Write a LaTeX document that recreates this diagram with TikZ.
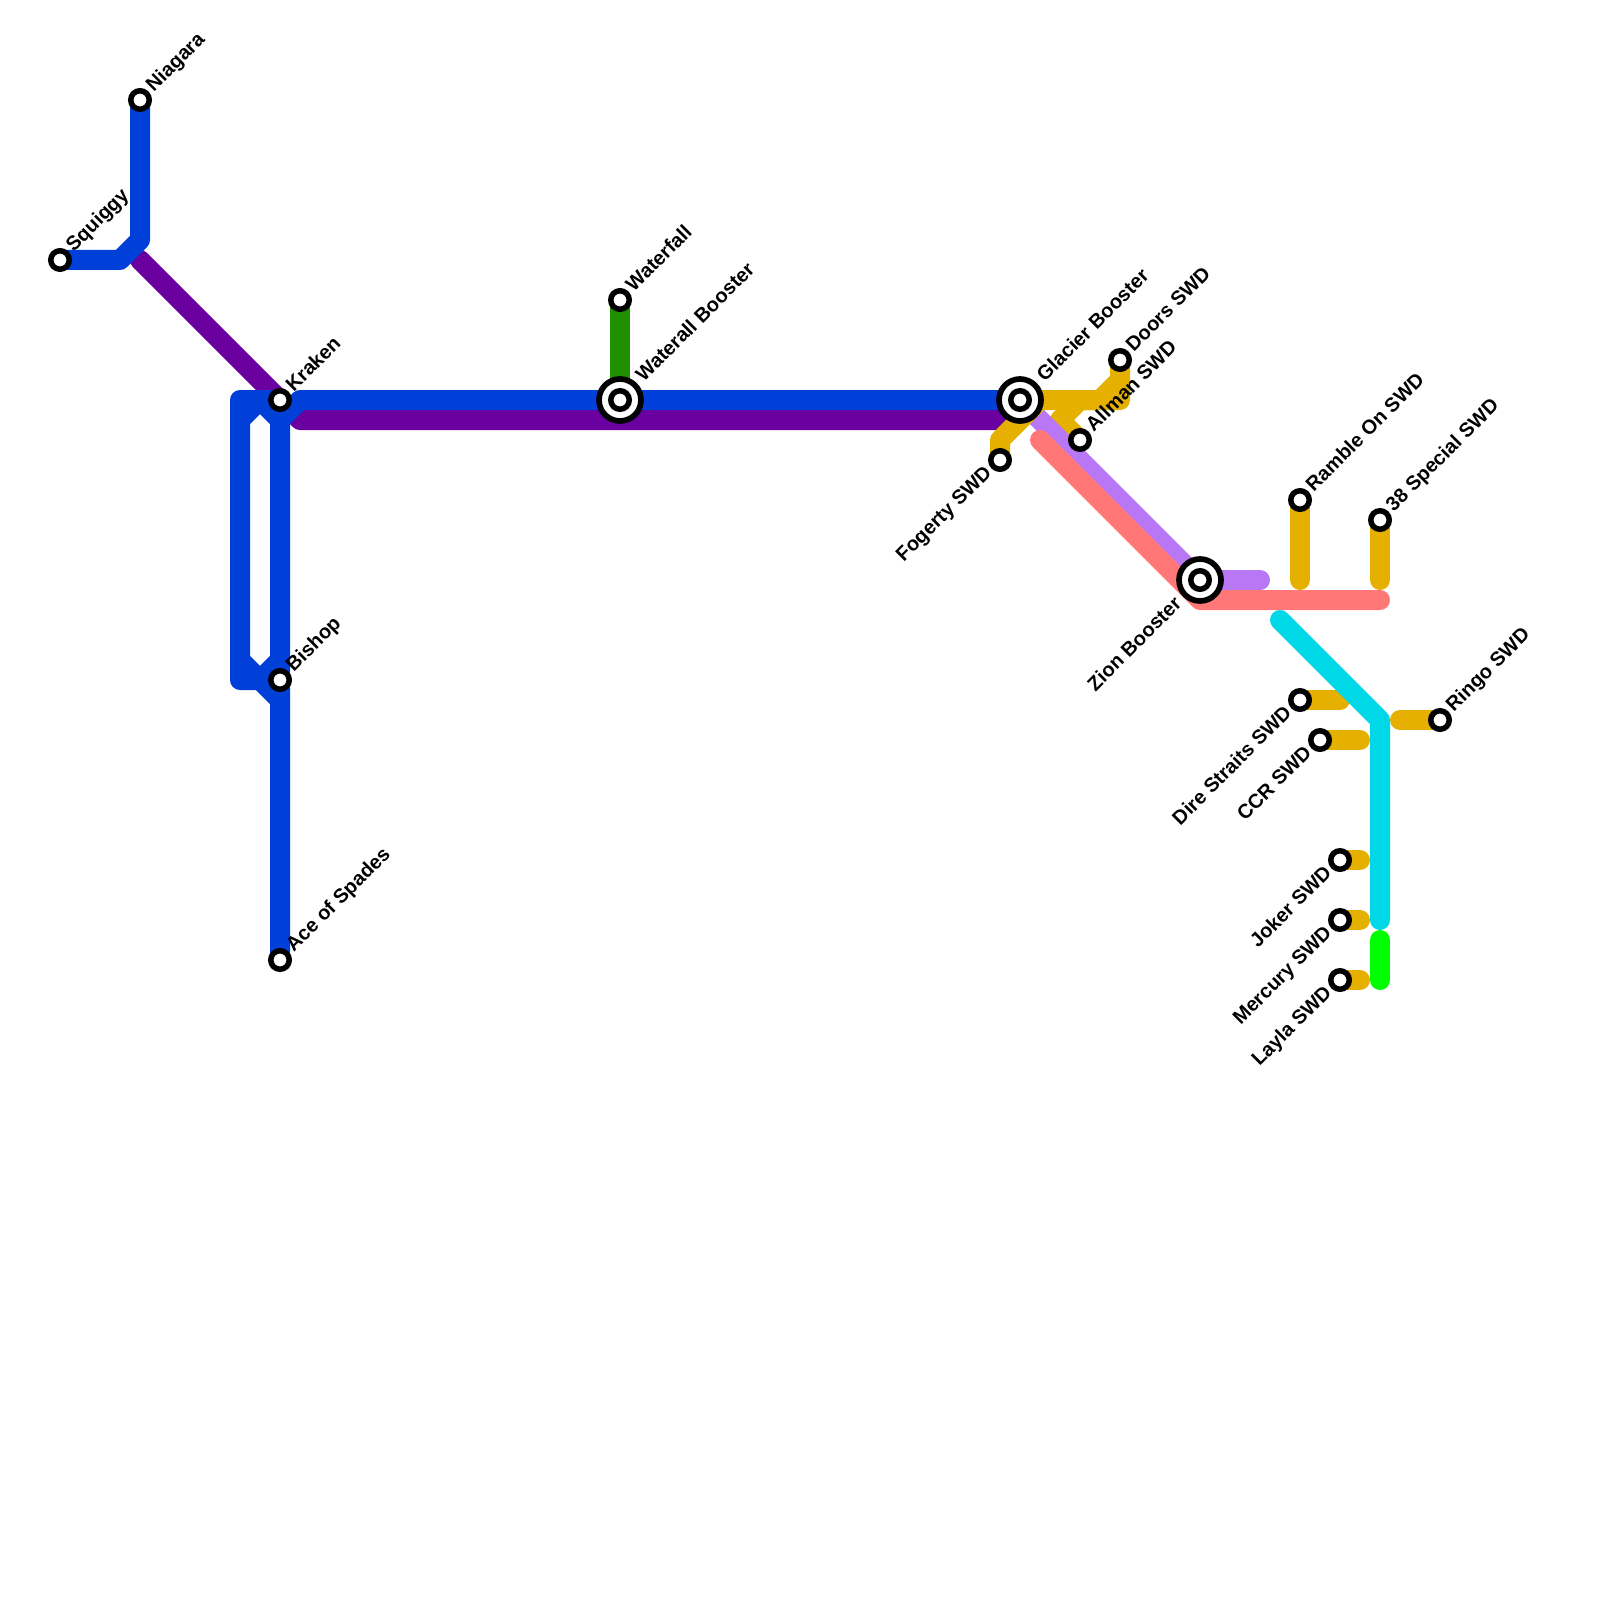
\documentclass[tikz,border=0pt]{standalone}
\usepackage{fontspec}
\setmainfont{Liberation Sans}
\usepackage{xcolor}
\definecolor{metroBlue}{HTML}{0040D8}
\definecolor{metroPurple}{HTML}{6A00A0}
\definecolor{metroForest}{HTML}{1E9000}
\definecolor{metroGold}{HTML}{E5B000}
\definecolor{metroLilac}{HTML}{B877F5}
\definecolor{metroCoral}{HTML}{FF7777}
\definecolor{metroCyan}{HTML}{00D8E8}
\definecolor{metroLime}{HTML}{00FF00}
\usetikzlibrary{calc}
\tikzset{
  rail/.style={line width=20*0.25mm,line cap=round,line join=round,color=#1},
  halt/.style={
    circle,draw=black,fill=white,line width=5.5*0.25mm,
    minimum size=18.5*0.25mm,inner sep=0pt,outer sep=0pt
  },
  hubring/.style={
    circle,draw=black,fill=white,line width=5.7*0.25mm,
    minimum size=42*0.25mm,inner sep=0pt,outer sep=0pt
  },
  lblright/.style={
    rotate=45,anchor=west,inner sep=0pt,
    text height=1.45ex,text depth=0.4ex,
    font=\fontsize{14.2pt}{16pt}\selectfont\bfseries
  },
  lblleft/.style={
    rotate=45,anchor=east,inner sep=0pt,
    text height=1.45ex,text depth=0.4ex,
    font=\fontsize{14.2pt}{16pt}\selectfont\bfseries
  },
}
\begin{document}
\begin{tikzpicture}[x=0.25mm,y=-0.25mm]
\useasboundingbox (0,0) rectangle (1600,1600);

%% ── Bends ────────────────────────────────────────────────
\coordinate (b1) at (120,260);
\coordinate (b2) at (140,240);
\coordinate (b3) at (140,260);
\coordinate (b4) at (300,420);
\coordinate (b5) at (1000,420);
\coordinate (b6) at (280,420);
\coordinate (b7) at (300,400);
\coordinate (b8) at (240,400);
\coordinate (b9) at (240,680);
\coordinate (b10) at (260,680);
\coordinate (b11) at (280,700);
\coordinate (b12) at (240,420);
\coordinate (b13) at (260,400);
\coordinate (b14) at (240,660);
\coordinate (b15) at (280,660);
\coordinate (g1) at (1000,440);
\coordinate (g2) at (1040,400);
\coordinate (g3) at (1100,400);
\coordinate (g4) at (1120,380);
\coordinate (g5) at (1060,420);
\coordinate (g6) at (1080,400);
\coordinate (g7) at (1120,400);
\coordinate (r1) at (1040,440);
\coordinate (r2) at (1200,600);
\coordinate (r3) at (1380,600);
\coordinate (l1) at (1260,580);
\coordinate (e1) at (1300,580);
\coordinate (e2) at (1380,580);
\coordinate (c1) at (1280,620);
\coordinate (c2) at (1380,720);
\coordinate (c3) at (1380,920);
\coordinate (v1) at (1380,940);
\coordinate (v2) at (1380,980);
\coordinate (s1) at (1340,700);
\coordinate (s2) at (1360,740);
\coordinate (s3) at (1360,860);
\coordinate (s4) at (1360,920);
\coordinate (s5) at (1360,980);
\coordinate (s6) at (1400,720);

%% ── Stations (named first, drawn last) ───────────────────
\coordinate (squiggy) at (60,260);
\coordinate (niagara) at (140,100);
\coordinate (kraken) at (280,400);
\coordinate (bishop) at (280,680);
\coordinate (spades) at (280,960);
\coordinate (waterfall) at (620,300);
\coordinate (wbooster) at (620,400);
\coordinate (glacier) at (1020,400);
\coordinate (doors) at (1120,360);
\coordinate (allman) at (1080,440);
\coordinate (fogerty) at (1000,460);
\coordinate (zion) at (1200,580);
\coordinate (ramble) at (1300,500);
\coordinate (special) at (1380,520);
\coordinate (dire) at (1300,700);
\coordinate (ccr) at (1320,740);
\coordinate (joker) at (1340,860);
\coordinate (mercury) at (1340,920);
\coordinate (layla) at (1340,980);
\coordinate (ringo) at (1440,720);

%% ── Lines ────────────────────────────────────────────────
\draw[rail=metroPurple] (b3) -- (kraken) -- (b4) -- (b5);
\draw[rail=metroBlue] (squiggy) -- (b1) -- (b2) -- (niagara);
\draw[rail=metroBlue] (spades) -- (b6) -- (b7) -- (glacier);
\draw[rail=metroBlue] (kraken) -- (b8) -- (b9) -- (b10) -- (b11);
\draw[rail=metroBlue] (b12) -- (b13) -- (b6);
\draw[rail=metroBlue] (b14) -- (b10) -- (b15);
\draw[rail=metroForest] (waterfall) -- (wbooster);
\draw[rail=metroGold] (glacier) -- (g3) -- (g4);
\draw[rail=metroGold] (allman) -- (g5) -- (g6) -- (g7) -- (doors);
\draw[rail=metroLilac] (glacier) -- (zion) -- (l1);
\draw[rail=metroGold] (fogerty) -- (g1) -- (g2);
\draw[rail=metroCoral] (r1) -- (r2) -- (r3);
\draw[rail=metroGold] (ramble) -- (e1);
\draw[rail=metroGold] (special) -- (e2);
\draw[rail=metroGold] (dire) -- (s1);
\draw[rail=metroGold] (ccr) -- (s2);
\draw[rail=metroGold] (joker) -- (s3);
\draw[rail=metroGold] (mercury) -- (s4);
\draw[rail=metroGold] (layla) -- (s5);
\draw[rail=metroGold] (s6) -- (ringo);
\draw[rail=metroCyan] (c1) -- (c2) -- (c3);
\draw[rail=metroLime] (v1) -- (v2);

%% ── Station marks ────────────────────────────────────────
\node[halt] (nsquiggy) at (squiggy) {};
\node[halt] (nniagara) at (niagara) {};
\node[halt] (nkraken) at (kraken) {};
\node[halt] (nbishop) at (bishop) {};
\node[halt] (nspades) at (spades) {};
\node[halt] (nwaterfall) at (waterfall) {};
\node[hubring] (hwbooster) at (wbooster) {};
\node[halt] (nwbooster) at (wbooster) {};
\node[hubring] (hglacier) at (glacier) {};
\node[halt] (nglacier) at (glacier) {};
\node[halt] (ndoors) at (doors) {};
\node[halt] (nallman) at (allman) {};
\node[halt] (nfogerty) at (fogerty) {};
\node[hubring] (hzion) at (zion) {};
\node[halt] (nzion) at (zion) {};
\node[halt] (nramble) at (ramble) {};
\node[halt] (nspecial) at (special) {};
\node[halt] (ndire) at (dire) {};
\node[halt] (nccr) at (ccr) {};
\node[halt] (njoker) at (joker) {};
\node[halt] (nmercury) at (mercury) {};
\node[halt] (nlayla) at (layla) {};
\node[halt] (nringo) at (ringo) {};

%% ── Labels ───────────────────────────────────────────────
\node[lblright] (tsquiggy) at ($(squiggy)+(11,-10)$) {Squiggy};
\node[lblright] (tniagara) at ($(niagara)+(11,-10)$) {Niagara};
\node[lblright] (tkraken) at ($(kraken)+(11,-10)$) {Kraken};
\node[lblright] (tbishop) at ($(bishop)+(11,-10)$) {Bishop};
\node[lblright] (tspades) at ($(spades)+(11,-10)$) {Ace of Spades};
\node[lblright] (twaterfall) at ($(waterfall)+(11,-10)$) {Waterfall};
\node[lblright] (twbooster) at ($(wbooster)+(21,-20)$) {Waterall Booster};
\node[lblright] (tglacier) at ($(glacier)+(22,-20)$) {Glacier Booster};
\node[lblright] (tdoors) at ($(doors)+(11,-10)$) {Doors SWD};
\node[lblright] (tallman) at ($(allman)+(11,-10)$) {Allman SWD};
\node[lblright] (tramble) at ($(ramble)+(11,-10)$) {Ramble On SWD};
\node[lblright] (tspecial) at ($(special)+(11,-10)$) {38 Special SWD};
\node[lblright] (tringo) at ($(ringo)+(11,-10)$) {Ringo SWD};
\node[lblleft] (tfogerty) at ($(fogerty)+(-10,11)$) {Fogerty SWD};
\node[lblleft] (tzion) at ($(zion)+(-20,22)$) {Zion Booster};
\node[lblleft] (tdire) at ($(dire)+(-10,11)$) {Dire Straits SWD};
\node[lblleft] (tccr) at ($(ccr)+(-10,11)$) {CCR SWD};
\node[lblleft] (tjoker) at ($(joker)+(-10,11)$) {Joker SWD};
\node[lblleft] (tmercury) at ($(mercury)+(-10,11)$) {Mercury SWD};
\node[lblleft] (tlayla) at ($(layla)+(-10,11)$) {Layla SWD};

\end{tikzpicture}
\end{document}
